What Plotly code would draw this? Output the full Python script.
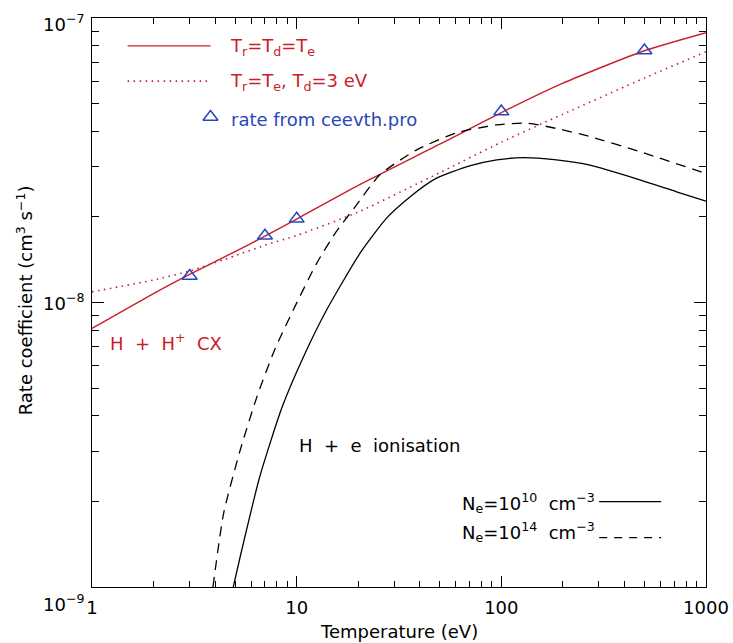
import math
import plotly.graph_objects as go

# ---------------- data ----------------
T_cx = [1, 2, 3, 5, 7, 10, 20, 50, 100, 200, 500, 1000]
cx_equal = [8.11e-9, 1.075e-8, 1.255e-8, 1.51e-8, 1.71e-8, 1.965e-8, 2.58e-8,
            3.60e-8, 4.65e-8, 5.90e-8, 7.67e-8, 8.88e-8]
cx_td3 = [1.09e-8, 1.20e-8, 1.29e-8, 1.46e-8, 1.59e-8, 1.72e-8, 2.08e-8,
          2.86e-8, 3.66e-8, 4.59e-8, 6.15e-8, 7.61e-8]

T_ceevth = [3, 7, 10, 100, 500]
rate_ceevth = [1.24e-8, 1.716e-8, 1.968e-8, 4.69e-8, 7.69e-8]

T_ion10 = [4.9, 5.3, 6.6, 8.5, 10.8, 14, 20.4, 27.5, 36, 48, 70, 95, 128,
           186, 271, 475, 718, 1000]
ion_ne10 = [1.0e-9, 1.28e-9, 2.44e-9, 4.30e-9, 6.45e-9, 9.41e-9, 1.49e-8,
            1.98e-8, 2.36e-8, 2.73e-8, 3.02e-8, 3.17e-8, 3.23e-8, 3.17e-8,
            3.04e-8, 2.70e-8, 2.45e-8, 2.27e-8]

T_ion14 = [3.9, 4.4, 5.3, 6.4, 7.8, 9.8, 12.5, 15.4, 19.3, 25.5, 38.6, 60.5,
           95, 133, 186, 271, 475, 1000]
ion_ne14 = [1.0e-9, 1.82e-9, 3.03e-9, 4.67e-9, 6.81e-9, 9.67e-9, 1.37e-8,
            1.75e-8, 2.17e-8, 2.81e-8, 3.44e-8, 3.95e-8, 4.21e-8, 4.27e-8,
            4.09e-8, 3.83e-8, 3.39e-8, 2.84e-8]

x_tickvals = [1, 10, 100, 1000]
x_ticktext = ["1", "10", "100", "1000"]
y_tickvals = [1e-9, 1e-8, 1e-7]
y_ticktext = ["10<sup>\u22129</sup>", "10<sup>\u22128</sup>", "10<sup>\u22127</sup>"]

# ---------------- styling ----------------
RED = "#c8202a"
BLUE = "#2846be"
BLACK = "#000000"
FONT = "DejaVu Sans"
FS = 18
NB = "\u00a0"

fig = go.Figure()

fig.add_trace(go.Scatter(x=T_cx, y=cx_equal, mode="lines",
                         line=dict(color=RED, width=1.4, shape="spline", smoothing=0.6)))
fig.add_trace(go.Scatter(x=T_cx, y=cx_td3, mode="lines",
                         line=dict(color=RED, width=1.6, dash="1.5px,4.5px",
                                   shape="spline", smoothing=0.6)))
fig.add_trace(go.Scatter(x=T_ion10, y=ion_ne10, mode="lines",
                         line=dict(color=BLACK, width=1.3, shape="spline", smoothing=0.6)))
fig.add_trace(go.Scatter(x=T_ion14, y=ion_ne14, mode="lines",
                         line=dict(color=BLACK, width=1.3, dash="10px,7px",
                                   shape="spline", smoothing=0.6)))
fig.add_trace(go.Scatter(x=T_ceevth, y=rate_ceevth, mode="markers",
                         marker=dict(symbol="triangle-up-open", size=13,
                                     color=BLUE, line=dict(color=BLUE, width=1.5))))

# legend key marks on an overlay axis spanning the plot area [0,1]
fig.add_trace(go.Scatter(x=[0.058, 0.193], y=[0.951, 0.951], mode="lines",
                         line=dict(color=RED, width=1.4), xaxis="x2", yaxis="y2"))
fig.add_trace(go.Scatter(x=[0.058, 0.193], y=[0.889, 0.889], mode="lines",
                         line=dict(color=RED, width=1.6, dash="1.5px,4.5px"),
                         xaxis="x2", yaxis="y2"))
fig.add_trace(go.Scatter(x=[0.193], y=[0.826], mode="markers",
                         marker=dict(symbol="triangle-up-open", size=13, color=BLUE,
                                     line=dict(color=BLUE, width=1.5)),
                         xaxis="x2", yaxis="y2"))
fig.add_trace(go.Scatter(x=[0.826, 0.927], y=[0.150, 0.150], mode="lines",
                         line=dict(color=BLACK, width=1.3), xaxis="x2", yaxis="y2"))
fig.add_trace(go.Scatter(x=[0.826, 0.927], y=[0.0866, 0.0866], mode="lines",
                         line=dict(color=BLACK, width=1.3, dash="8px,7px"),
                         xaxis="x2", yaxis="y2"))

axis_common = dict(
    type="log", showgrid=False, zeroline=False, showline=True, linecolor=BLACK,
    linewidth=1, mirror="ticks", ticks="inside", tickcolor=BLACK, tickwidth=1,
    tickfont=dict(family=FONT, size=FS, color=BLACK), automargin=False,
)

fig.update_layout(
    width=733, height=643,
    margin=dict(l=92, r=27, t=18, b=56, pad=0, autoexpand=False),
    paper_bgcolor="white", plot_bgcolor="white",
    showlegend=False,
    font=dict(family=FONT, size=FS, color=BLACK),
    xaxis=dict(**axis_common, range=[0, 3], tickmode="array",
               tickvals=x_tickvals, ticktext=x_ticktext, ticklen=11,
               minor=dict(ticks="inside", ticklen=6, tickcolor=BLACK, tickwidth=1,
                          tickmode="array",
                          tickvals=[m * d for d in (1, 10, 100) for m in range(2, 10)]),
               ticklabelstandoff=4),
    yaxis=dict(**axis_common, range=[-9, -7], tickmode="array",
               tickvals=y_tickvals, ticktext=y_ticktext, ticklen=12,
               showticklabels=False,
               minor=dict(ticks="inside", ticklen=7, tickcolor=BLACK, tickwidth=1,
                          tickmode="array",
                          tickvals=[m * d for d in (1e-9, 1e-8) for m in range(2, 10)])),
    xaxis2=dict(overlaying="x", range=[0, 1], visible=False, fixedrange=True,
                automargin=False),
    yaxis2=dict(overlaying="y", range=[0, 1], visible=False, fixedrange=True,
                automargin=False),
)

ann = [
    dict(x=0.2215, y=0.9496, text="T<sub>r</sub>=T<sub>d</sub>=T<sub>e</sub>",
         font=dict(color=RED)),
    dict(x=0.2215, y=0.888, text="T<sub>r</sub>=T<sub>e</sub>," + NB +
         "T<sub>d</sub>=3" + NB + "eV", font=dict(color=RED)),
    dict(x=0.223, y=0.821, text="rate" + NB + "from" + NB + "ceevth.pro",
         font=dict(color=BLUE)),
    dict(x=0.026, y=0.431, text="H" + NB * 2 + "+" + NB * 2 + "H<sup>+</sup>" + NB * 2 + "CX",
         font=dict(color=RED)),
    dict(x=0.334, y=0.248, text="H" + NB * 2 + "+" + NB * 2 + "e" + NB * 2 + "ionisation",
         font=dict(color=BLACK)),
    dict(x=0.8225, y=0.148, xanchor="right",
         text="N<sub>e</sub>=10<sup>10</sup>" + NB + NB + "cm<sup>\u22123</sup>",
         font=dict(color=BLACK)),
    dict(x=0.8225, y=0.097, xanchor="right",
         text="N<sub>e</sub>=10<sup>14</sup>" + NB + NB + "cm<sup>\u22123</sup>",
         font=dict(color=BLACK)),
    dict(x=0.5, y=-0.079, xanchor="center", text="Temperature (eV)",
         font=dict(color=BLACK)),
    dict(x=-0.109, y=0.504, xanchor="center", textangle=-90,
         text="Rate coefficient (cm<sup>3</sup> s<sup>\u22121</sup>)",
         font=dict(color=BLACK)),
]
for a in ann:
    a.setdefault("xanchor", "left")
    a["yanchor"] = "middle"
    a["xref"] = "paper"
    a["yref"] = "paper"
    a["showarrow"] = False
    a["font"] = dict(family=FONT, size=FS, **a["font"])
    fig.add_annotation(**a)

# y tick labels (drawn as text so each can be nudged like the original)
y_label_shift = [-16, 1, -5]
for val, txt, ys in zip(y_tickvals, y_ticktext, y_label_shift):
    fig.add_annotation(x=0, xref="paper", y=math.log10(val), yref="y", text=txt,
                       showarrow=False, xanchor="right", yanchor="middle",
                       xshift=-6, yshift=ys,
                       font=dict(family=FONT, size=FS, color=BLACK))

fig.write_html("out.html")
